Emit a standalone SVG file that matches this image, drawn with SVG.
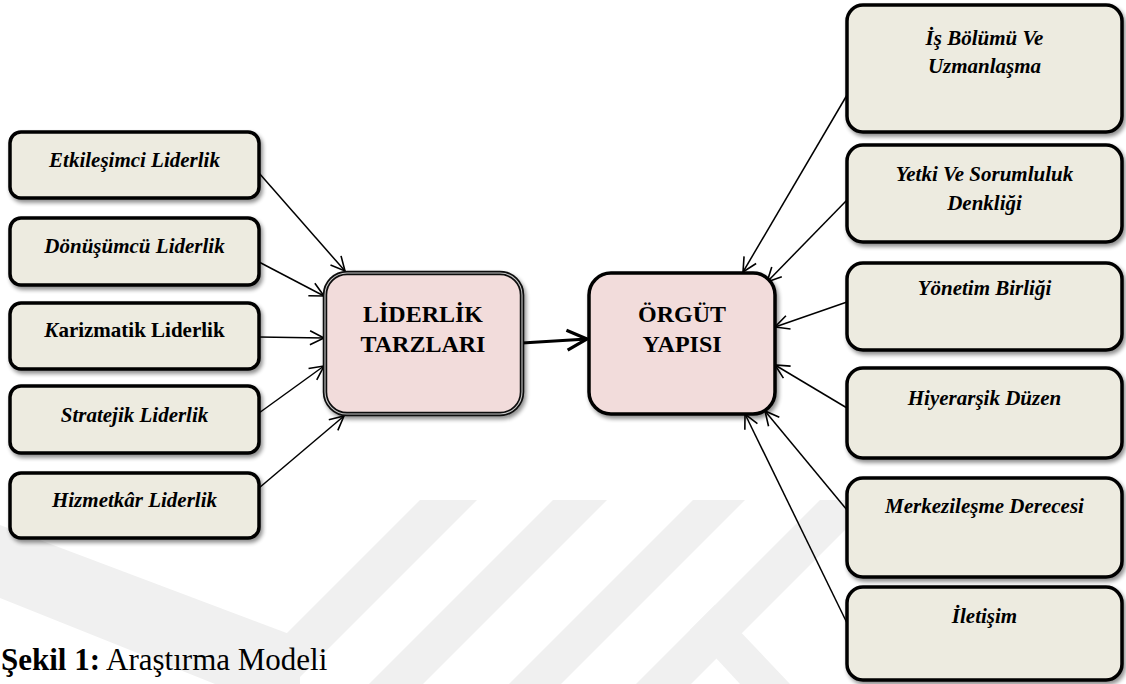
<svg xmlns="http://www.w3.org/2000/svg" width="1126" height="684" viewBox="0 0 1126 684">
<style>
.side{fill:#EDEBE0;stroke:#000;stroke-width:3.5}
.ctr{fill:#F2DCDB}
.lbl{font-family:"Liberation Serif","Times New Roman",serif;font-weight:bold;font-style:italic;font-size:21px;text-anchor:middle;fill:#000}
.big{font-family:"Liberation Serif","Times New Roman",serif;font-weight:bold;font-size:24px;text-anchor:middle;fill:#000}
.con{stroke:#000;stroke-width:1.5;fill:none;marker-end:url(#ah)}
.wm{fill:#f0f0f0}
</style>
<defs>
<filter id="sh" x="-10%" y="-10%" width="125%" height="130%">
<feGaussianBlur in="SourceAlpha" stdDeviation="2"/>
<feOffset dx="2" dy="3" result="b"/>
<feComponentTransfer><feFuncA type="linear" slope="0.45"/></feComponentTransfer>
<feMerge><feMergeNode/><feMergeNode in="SourceGraphic"/></feMerge>
</filter>
<marker id="ah" markerUnits="userSpaceOnUse" viewBox="-16 -10 20 20" refX="0" refY="0" markerWidth="20" markerHeight="20" orient="auto" overflow="visible">
<path d="M-14,-7 L0,0 L-14,7" fill="none" stroke="#000" stroke-width="1.6"/>
</marker>
<marker id="ahb" markerUnits="userSpaceOnUse" viewBox="-24 -14 28 28" refX="0" refY="0" markerWidth="28" markerHeight="28" orient="auto" overflow="visible">
<path d="M-20,-10 L0,0 L-20,10" fill="none" stroke="#000" stroke-width="3.2"/>
</marker>
</defs>
<rect width="1126" height="684" fill="#fff"/>
<g id="watermark">
<polygon class="wm" points="0,525 300,638 300,684 215,684 0,598"/>
<polygon class="wm" points="420,500 477,500 293,684 236,684"/>
<polygon class="wm" points="553,500 607,500 423,684 369,684"/>
<polygon class="wm" points="693,500 745,500 561,684 509,684"/>
<polygon class="wm" points="820,500 875,500 691,684 636,684"/>
<polygon class="wm" points="690,630 715,605 790,684 740,684"/>
</g>
<g id="connectors">
<line class="con" x1="259" y1="173" x2="345" y2="271"/>
<line class="con" x1="259" y1="262" x2="324" y2="296"/>
<line class="con" x1="259" y1="337" x2="324" y2="338"/>
<line class="con" x1="259" y1="413" x2="324" y2="366"/>
<line class="con" x1="259" y1="488" x2="344" y2="416"/>
<line class="con" x1="847" y1="95" x2="743" y2="272"/>
<line class="con" x1="847" y1="200" x2="767" y2="282"/>
<line class="con" x1="847" y1="302" x2="775" y2="327"/>
<line class="con" x1="847" y1="408" x2="775" y2="365"/>
<line class="con" x1="847" y1="510" x2="765" y2="411"/>
<line class="con" x1="847" y1="623" x2="745" y2="414"/>
<line x1="522" y1="343" x2="587" y2="339" stroke="#000" stroke-width="3.2" marker-end="url(#ahb)"/>
</g>
<g id="n-etkilesimci"><rect class="side" x="10" y="132" width="249" height="66" rx="11" filter="url(#sh)"/><text class="lbl" x="134.5" y="167">Etkileşimci Liderlik</text></g>
<g id="n-donusumcu"><rect class="side" x="10" y="218" width="249" height="67" rx="11" filter="url(#sh)"/><text class="lbl" x="134.5" y="253">Dönüşümcü Liderlik</text></g>
<g id="n-karizmatik"><rect class="side" x="10" y="303" width="249" height="66" rx="11" filter="url(#sh)"/><text class="lbl" x="134.5" y="337" style="font-style:normal"><tspan style="font-style:italic">K</tspan>arizmatik Liderlik</text></g>
<g id="n-stratejik"><rect class="side" x="10" y="386" width="249" height="67" rx="11" filter="url(#sh)"/><text class="lbl" x="134.5" y="422">Stratejik Liderlik</text></g>
<g id="n-hizmetkar"><rect class="side" x="10" y="473" width="249" height="65" rx="11" filter="url(#sh)"/><text class="lbl" x="134.5" y="507">Hizmetkâr Liderlik</text></g>
<g id="n-liderlik">
<rect class="ctr" x="325" y="273" width="197" height="141" rx="22" stroke="#111" stroke-width="4.5" filter="url(#sh)"/>
<rect x="325" y="273" width="197" height="141" rx="22" fill="none" stroke="#c8c8c8" stroke-width="1.1"/>
<text class="big" x="423" y="322">LİDERLİK</text>
<text class="big" x="423" y="352">TARZLARI</text>
</g>
<g id="n-orgut">
<rect class="ctr" x="589" y="273" width="186" height="141" rx="22" stroke="#000" stroke-width="3.5" filter="url(#sh)"/>
<text class="big" x="682" y="322">ÖRGÜT</text>
<text class="big" x="682" y="352">YAPISI</text>
</g>
<g id="n-isbolumu"><rect class="side" x="847" y="5" width="275" height="127" rx="16" filter="url(#sh)"/><text class="lbl" x="984.5" y="45">İş Bölümü Ve</text><text class="lbl" x="984.5" y="73">Uzmanlaşma</text></g>
<g id="n-yetki"><rect class="side" x="847" y="145" width="275" height="97" rx="16" filter="url(#sh)"/><text class="lbl" x="984.5" y="181">Yetki Ve Sorumluluk</text><text class="lbl" x="984.5" y="210">Denkliği</text></g>
<g id="n-yonetim"><rect class="side" x="847" y="263" width="275" height="87" rx="16" filter="url(#sh)"/><text class="lbl" x="984.5" y="295">Yönetim Birliği</text></g>
<g id="n-hiyerarsik"><rect class="side" x="847" y="368" width="275" height="90" rx="16" filter="url(#sh)"/><text class="lbl" x="984.5" y="405">Hiyerarşik Düzen</text></g>
<g id="n-merkezilesme"><rect class="side" x="847" y="478" width="275" height="99" rx="16" filter="url(#sh)"/><text class="lbl" x="984.5" y="513">Merkezileşme Derecesi</text></g>
<g id="n-iletisim"><rect class="side" x="847" y="587" width="275" height="93" rx="16" filter="url(#sh)"/><text class="lbl" x="984.5" y="623">İletişim</text></g>
<text x="1" y="670" font-family="'Liberation Serif','Times New Roman',serif" font-size="31" fill="#000"><tspan font-weight="bold">Şekil 1:</tspan> Araştırma Modeli</text>
</svg>
